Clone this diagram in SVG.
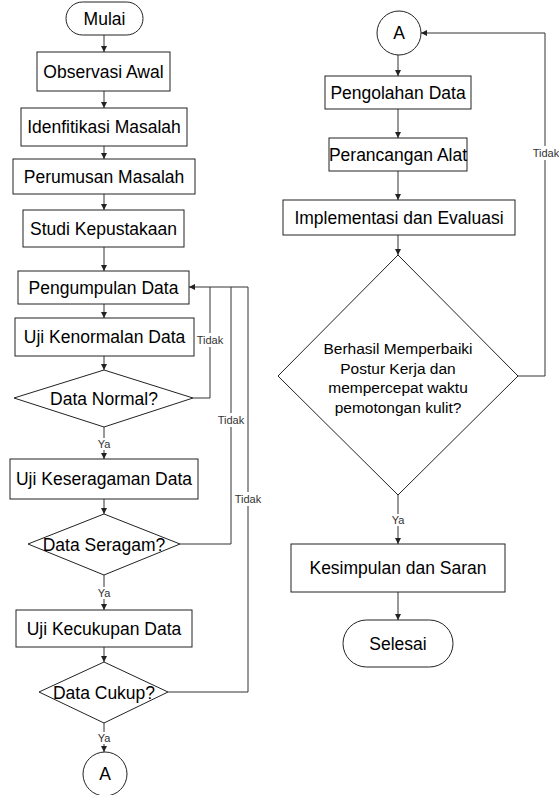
<svg xmlns="http://www.w3.org/2000/svg" width="559" height="795" viewBox="0 0 559 795">
<defs>
<marker id="arr" markerUnits="userSpaceOnUse" markerWidth="8" markerHeight="8" refX="6" refY="3" orient="auto">
<path d="M0,0 L6,3 L0,6 Z" fill="#222"/>
</marker>
<style>
.n{fill:#fff;stroke:#222;stroke-width:1}
.t{font-family:"Liberation Sans",Arial,sans-serif;font-size:17.5px;fill:#000;text-anchor:middle;dominant-baseline:central}
.d{font-family:"Liberation Sans",Arial,sans-serif;font-size:15.5px;fill:#000;text-anchor:middle}
.c{fill:none;stroke:#333;stroke-width:1}
.a{marker-end:url(#arr)}
.l{font-family:"Liberation Sans",Arial,sans-serif;font-size:11px;fill:#333;text-anchor:middle;dominant-baseline:central}
.lb{fill:#fff}
</style>
</defs>
<rect width="559" height="795" fill="#fff"/>
<g id="connectors">
<path class="c a" d="M104,35 V52"/>
<path class="c a" d="M104,91 V108"/>
<path class="c a" d="M104,146 V159"/>
<path class="c a" d="M104,194 V210"/>
<path class="c a" d="M104,247 V271"/>
<path class="c a" d="M104,304 V318"/>
<path class="c a" d="M104,356 V370"/>
<path class="c a" d="M104,427 V459"/>
<path class="c a" d="M104,499 V514"/>
<path class="c a" d="M104,575 V610"/>
<path class="c a" d="M104,647 V662"/>
<path class="c a" d="M104,723 V752"/>
<path class="c a" d="M193,398 H210 V287 H189"/>
<path class="c" d="M180,544 H231 V287 H210"/>
<path class="c" d="M168,692 H248 V287 H231"/>
<path class="c a" d="M398,55 V76"/>
<path class="c a" d="M398,109 V138"/>
<path class="c a" d="M398,171 V200"/>
<path class="c a" d="M398,235 V255"/>
<path class="c a" d="M398,495 V544"/>
<path class="c a" d="M398,592 V620"/>
<path class="c a" d="M518,376 H545 V33 H421"/>
</g>
<g id="labels">
<rect class="lb" x="197" y="333" width="27" height="14"/><text class="l" x="210" y="340">Tidak</text>
<rect class="lb" x="218" y="413" width="27" height="14"/><text class="l" x="231" y="420">Tidak</text>
<rect class="lb" x="235" y="492" width="27" height="14"/><text class="l" x="248" y="499">Tidak</text>
<rect class="lb" x="97" y="438" width="14" height="12"/><text class="l" x="104" y="444">Ya</text>
<rect class="lb" x="97" y="587" width="14" height="12"/><text class="l" x="104" y="593">Ya</text>
<rect class="lb" x="97" y="732" width="14" height="12"/><text class="l" x="104" y="738">Ya</text>
<rect class="lb" x="532" y="146" width="27" height="14"/><text class="l" x="546" y="153">Tidak</text>
<rect class="lb" x="391" y="514" width="14" height="12"/><text class="l" x="398" y="520">Ya</text>
</g>
<g id="mulai"><rect class="n" x="66" y="2" width="77" height="33" rx="16.5"/><text class="t" x="104.5" y="18.5">Mulai</text></g>
<g id="observasi"><rect class="n" x="37" y="52" width="133" height="39"/><text class="t" x="103.5" y="71.5">Observasi Awal</text></g>
<g id="identifikasi"><rect class="n" x="21" y="108" width="166" height="38"/><text class="t" x="104" y="127">Idenfitikasi Masalah</text></g>
<g id="perumusan"><rect class="n" x="13" y="159" width="182" height="35"/><text class="t" x="104" y="176.5">Perumusan Masalah</text></g>
<g id="studi"><rect class="n" x="23" y="210" width="161" height="37"/><text class="t" x="103.5" y="228.5">Studi Kepustakaan</text></g>
<g id="pengumpulan"><rect class="n" x="18" y="271" width="171" height="33"/><text class="t" x="103.5" y="287.5">Pengumpulan Data</text></g>
<g id="kenormalan"><rect class="n" x="15" y="318" width="179" height="38"/><text class="t" x="104.5" y="337">Uji Kenormalan Data</text></g>
<g id="normal"><polygon class="n" points="104,370 193,398 104,427 14,398"/><text class="t" x="104" y="398.5">Data Normal?</text></g>
<g id="keseragaman"><rect class="n" x="10" y="459" width="188" height="40"/><text class="t" x="104" y="479">Uji Keseragaman Data</text></g>
<g id="seragam"><polygon class="n" points="104,514 180,544 104,575 28,544"/><text class="t" x="104" y="544.5">Data Seragam?</text></g>
<g id="kecukupan"><rect class="n" x="16" y="610" width="176" height="37"/><text class="t" x="104" y="628.5">Uji Kecukupan Data</text></g>
<g id="cukup"><polygon class="n" points="104,662 168,692 104,723 39,692"/><text class="t" x="104" y="692.5">Data Cukup?</text></g>
<g id="a1"><circle class="n" cx="105" cy="774" r="22"/><text class="t" x="105" y="774">A</text></g>
<g id="a2"><circle class="n" cx="399" cy="33" r="22"/><text class="t" x="399" y="33">A</text></g>
<g id="pengolahan"><rect class="n" x="325" y="76" width="146" height="33"/><text class="t" x="398" y="92.5">Pengolahan Data</text></g>
<g id="perancangan"><rect class="n" x="329" y="138" width="138" height="33"/><text class="t" x="398" y="154.5">Perancangan Alat</text></g>
<g id="implementasi"><rect class="n" x="283" y="200" width="232" height="35"/><text class="t" x="399" y="217.5">Implementasi dan Evaluasi</text></g>
<g id="berhasil"><polygon class="n" points="398,255 518,376 398,495 278,376"/>
<text class="d" x="398" y="354">Berhasil Memperbaiki</text>
<text class="d" x="398" y="373.5">Postur Kerja dan</text>
<text class="d" x="398" y="393">mempercepat waktu</text>
<text class="d" x="398" y="412.5">pemotongan kulit?</text></g>
<g id="kesimpulan"><rect class="n" x="291" y="544" width="214" height="48"/><text class="t" x="398" y="568">Kesimpulan dan Saran</text></g>
<g id="selesai"><rect class="n" x="343" y="620" width="110" height="47" rx="23.5"/><text class="t" x="398" y="643.5">Selesai</text></g>
</svg>
